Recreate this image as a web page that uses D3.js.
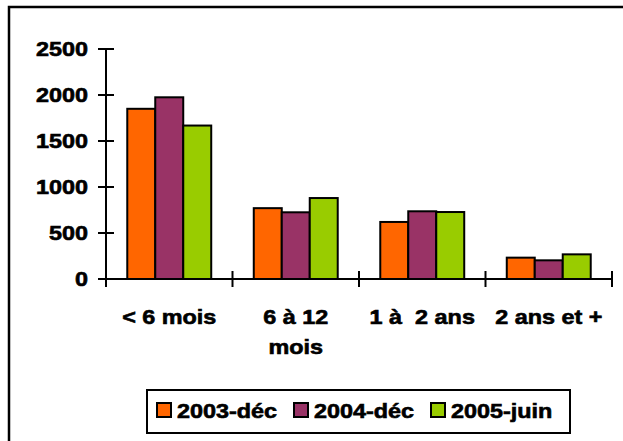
<!DOCTYPE html>
<html>
<head>
<meta charset="utf-8">
<script src="https://cdn.jsdelivr.net/npm/d3@7"></script>
<style>
  body { margin: 0; background: #fff; }
  text { font-family: "Liberation Sans", Arial, sans-serif; font-weight: bold; font-size: 20px; fill: #000; stroke: #000; stroke-width: 0.6px; white-space: pre; }
</style>
</head>
<body>
<svg id="chart" width="623" height="441"></svg>
<script>
const categories = [['< 6 mois'], ['6 à 12', 'mois'], ['1 à  2 ans'], ['2 ans et +']]
const seriesNames = ['2003-déc', '2004-déc', '2005-juin']
const seriesColors = ['#FF6600', '#993366', '#99CC00']
const values2003 = [1850, 770, 620, 232]
const values2004 = [1975, 725, 736, 203]
const values2005 = [1668, 880, 728, 268]
const yTicks = [0, 500, 1000, 1500, 2000, 2500]

const allValues = [values2003, values2004, values2005]
const stretch = 1.17 // the source font is widened horizontally

const svg = d3.select('#chart')

// outer frame, runs past the right and bottom edges
svg.append('rect')
  .attr('x', 9).attr('y', 7)
  .attr('width', 630).attr('height', 450)
  .attr('fill', 'none').attr('stroke', '#000').attr('stroke-width', 2.5)

const plotLeft = 106, plotRight = 612, plotTop = 49, plotBottom = 279

const y = d3.scaleLinear().domain([0, 2500]).range([plotBottom, plotTop])
const catKeys = categories.map((c) => c.join(' '))
const x = d3.scaleBand().domain(catKeys).range([plotLeft, plotRight]).paddingInner(0)
const x1 = d3.scaleBand().domain(seriesNames).range([0, x.bandwidth()]).paddingOuter(0.76)

const label = (g, px, py, str, anchor) => {
  g.append('text')
    .attr('transform', `translate(${px},${py}) scale(${stretch},1)`)
    .attr('text-anchor', anchor)
    .text(str)
}

// bars
const groups = svg.append('g')
  .selectAll('g')
  .data(catKeys)
  .join('g')
  .attr('transform', (d) => `translate(${x(d)},0)`)

groups.selectAll('rect')
  .data((d, i) => seriesNames.map((s, j) => ({ s, j, v: allValues[j][i] })))
  .join('rect')
  .attr('x', (d) => x1(d.s))
  .attr('y', (d) => y(d.v))
  .attr('width', x1.bandwidth())
  .attr('height', (d) => y(0) - y(d.v))
  .attr('fill', (d) => seriesColors[d.j])
  .attr('stroke', '#000')
  .attr('stroke-width', 2)

// y axis
const yAxis = svg.append('g')
yAxis.append('line')
  .attr('x1', plotLeft).attr('x2', plotLeft).attr('y1', plotTop).attr('y2', plotBottom)
  .attr('stroke', '#000').attr('stroke-width', 2)
yTicks.forEach((t) => {
  yAxis.append('line')
    .attr('x1', plotLeft - 8).attr('x2', plotLeft + 8)
    .attr('y1', y(t)).attr('y2', y(t))
    .attr('stroke', '#000').attr('stroke-width', 2)
  label(yAxis, 88, y(t) + 7, String(t), 'end')
})

// x axis
const xAxis = svg.append('g')
xAxis.append('line')
  .attr('x1', plotLeft).attr('x2', plotRight).attr('y1', plotBottom).attr('y2', plotBottom)
  .attr('stroke', '#000').attr('stroke-width', 2)
const xTickPos = catKeys.map((k) => x(k)).concat([plotRight])
xTickPos.forEach((px) => {
  xAxis.append('line')
    .attr('x1', px).attr('x2', px)
    .attr('y1', plotBottom - 8).attr('y2', plotBottom + 8)
    .attr('stroke', '#000').attr('stroke-width', 2)
})
categories.forEach((lines, i) => {
  const cx = x(catKeys[i]) + x.bandwidth() / 2
  lines.forEach((ln, k) => label(xAxis, cx, 324 + k * 30, ln, 'middle'))
})

// legend
const legend = svg.append('g')
legend.append('rect')
  .attr('x', 147).attr('y', 390)
  .attr('width', 423).attr('height', 43)
  .attr('fill', '#fff').attr('stroke', '#000').attr('stroke-width', 2)
seriesNames.forEach((s, i) => {
  const lx = 157 + i * 137
  legend.append('rect')
    .attr('x', lx).attr('y', 403)
    .attr('width', 14).attr('height', 14)
    .attr('fill', seriesColors[i]).attr('stroke', '#000').attr('stroke-width', 2)
  label(legend, lx + 20, 418, s, 'start')
})
</script>
</body>
</html>
